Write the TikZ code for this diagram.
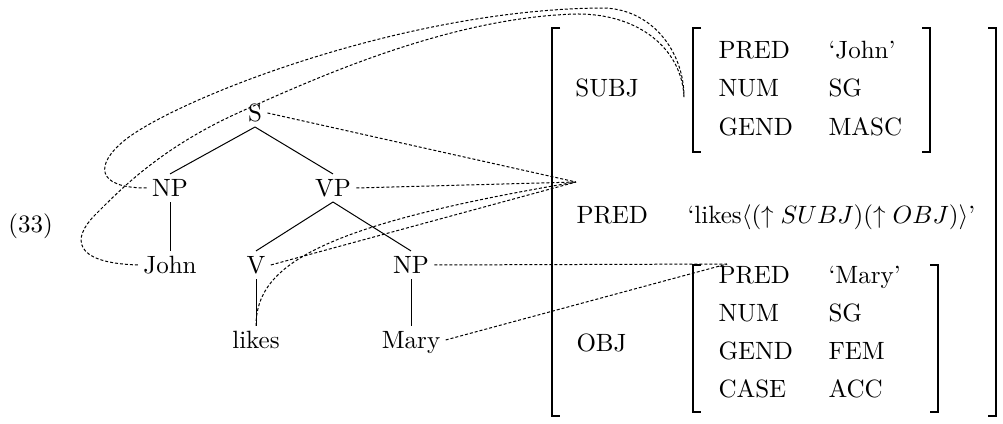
\documentclass[tikz,border=0pt]{standalone}
\begin{document}
\begin{tikzpicture}[x=0.4pt,y=-0.4pt,
  tn/.style={anchor=base,inner xsep=2pt,inner ysep=2pt,text height=6.83pt,text depth=0pt},
  tx/.style={anchor=base west,inner sep=0pt},
  tl/.style={line width=0.4pt},
  dl/.style={line width=0.4pt,dash pattern=on 1.2pt off 0.8pt},
  br/.style={line width=0.6pt}]
\useasboundingbox (0,0) rectangle (1003,423);
% example number
\node[tx] (ex) at (8,232) {(33)};
% tree
\node[tn] (S) at (255,121.5) {S};
\node[tn] (NPa) at (170,196.5) {NP};
\node[tn] (VP) at (333,196.5) {VP};
\node[tn] (John) at (170,273.5) {John};
\node[tn] (V) at (256,273.5) {V};
\node[tn] (NPb) at (411,273.5) {NP};
\node[tn] (likes) at (256,348.5) {likes};
\node[tn] (Mary) at (411,348.5) {Mary};
\draw[tl] (S.south) -- (NPa.north);
\draw[tl] (S.south) -- (VP.north);
\draw[tl] (NPa.south) -- (John.north);
\draw[tl] (VP.south) -- (V.north);
\draw[tl] (VP.south) -- (NPb.north);
\draw[tl] (V.south) -- (likes.north);
\draw[tl] (NPb.south) -- (Mary.north);
% AVM texts
\node[tx] (subj) at (575,96.5) {SUBJ};
\node[tx] (sp) at (718,58.5) {PRED};
\node[tx] (spv) at (828,58.5) {`John'};
\node[tx] (sn) at (718,96.5) {NUM};
\node[tx] (snv) at (828,96.5) {SG};
\node[tx] (sg) at (718,135.5) {GEND};
\node[tx] (sgv) at (828,135.5) {MASC};
\node[tx] (pred) at (576,223.5) {PRED};
\node[tx] (predv) at (687,223.5) {`likes$\langle(\uparrow SUBJ)(\uparrow OBJ)\rangle$'};
\node[tx] (obj) at (576,351.5) {OBJ};
\node[tx] (op1) at (718,283.5) {PRED};
\node[tx] (op1v) at (828,283.5) {`Mary'};
\node[tx] (on) at (718,321.5) {NUM};
\node[tx] (onv) at (828,321.5) {SG};
\node[tx] (og) at (718,359.5) {GEND};
\node[tx] (ogv) at (828,359.5) {FEM};
\node[tx] (oc) at (718,397.5) {CASE};
\node[tx] (ocv) at (828,397.5) {ACC};
% brackets
\draw[br] (560,28) -- (552,28) -- (552,416) -- (560,416);
\draw[br] (988,28) -- (996,28) -- (996,416) -- (988,416);
\draw[br] (701,28) -- (693,28) -- (693,152) -- (701,152);
\draw[br] (922,28) -- (930,28) -- (930,152) -- (922,152);
\draw[br] (701,265) -- (693,265) -- (693,412) -- (701,412);
\draw[br] (930,265) -- (938,265) -- (938,412) -- (930,412);
% connector targets
\coordinate (fp) at (576,182);
\coordinate (objp) at (727,264);
\coordinate (sj) at (684,97);
% dashed correspondences
\draw[dl] (S.east) -- (fp);
\draw[dl] (VP.east) -- (fp);
\draw[dl] (V.east) -- (fp);
\draw[dl] (likes.north) .. controls (256,265) and (320,225) .. (fp);
\draw[dl] (NPb.east) -- (objp);
\draw[dl] (Mary.east) -- (objp);
\draw[dl] (NPa.west) .. controls (95,188) and (95,164) .. (125,140)
  .. controls (175,100) and (400,10) .. (600,8)
  .. controls (650,7) and (684,50) .. (sj);
\draw[dl] (John.west) .. controls (72,263) and (72,238) .. (95,215)
  .. controls (120,190) and (160,148) .. (240,112)
  .. controls (320,76) and (450,18) .. (575,14)
  .. controls (640,13) and (682,50) .. (sj);
\end{tikzpicture}
\end{document}
